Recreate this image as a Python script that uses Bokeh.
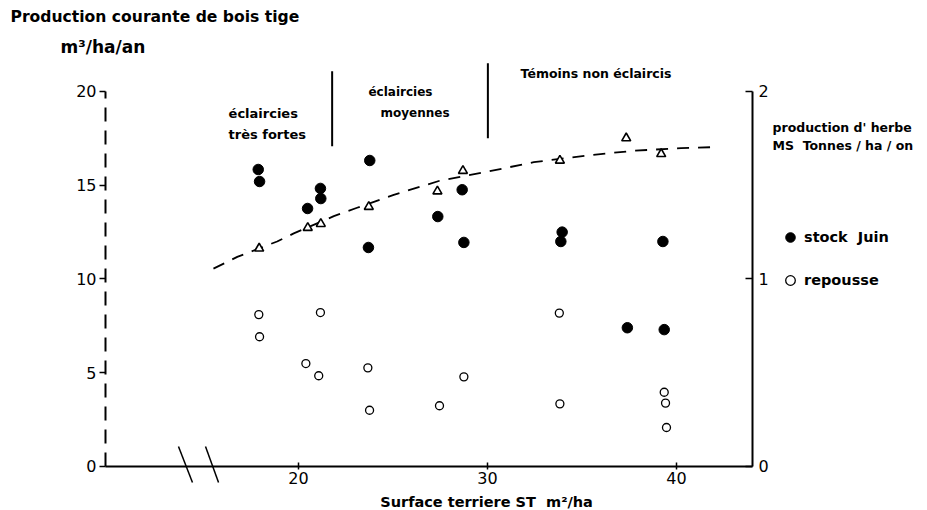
from bokeh.plotting import figure
from bokeh.models import Range1d, LinearAxis, FixedTicker, Label, Legend, LegendItem
from bokeh.embed import file_html
from bokeh.resources import INLINE

# ---- data ----
# Production courante de bois tige (m3/ha/an), triangles
tri_x = [17.92, 20.49, 21.18, 23.72, 27.35, 28.70, 33.83, 37.34, 39.19]
tri_y = [11.63, 12.73, 12.94, 13.85, 14.68, 15.77, 16.32, 17.51, 16.67]

# fitted dashed curve
curve_x = [15.5, 16.76, 18.87, 19.75, 21.87, 23.1, 25.04, 27.5, 29.98, 32.45, 35.27, 37.75, 40.24, 41.94]
curve_y = [10.55, 11.18, 12.0, 12.43, 13.35, 13.8, 14.49, 15.25, 15.72, 16.23, 16.59, 16.84, 16.98, 17.03]

# production d'herbe MS t/ha/an : stock Juin (filled)
stock_x = [17.87, 17.94, 21.16, 21.18, 20.48, 23.77, 23.70, 27.37, 28.66, 28.75, 33.95, 33.88, 39.28, 37.40, 39.35]
stock_y = [1.584, 1.520, 1.483, 1.429, 1.376, 1.632, 1.168, 1.333, 1.476, 1.195, 1.250, 1.200, 1.200, 0.740, 0.730]

# repousse (open)
rep_x = [17.90, 17.94, 21.16, 20.39, 21.07, 23.67, 23.76, 27.46, 28.75, 33.80, 33.83, 39.35, 39.42, 39.47]
rep_y = [0.810, 0.692, 0.821, 0.549, 0.484, 0.526, 0.300, 0.324, 0.478, 0.818, 0.334, 0.396, 0.338, 0.208]

x_ticks = [20, 30, 40]
y_ticks = [0, 5, 10, 15, 20]
y2_ticks = [0, 1, 2]

FONT = "DejaVu Sans"
NB = "\u00a0"
X0, X1 = 4.233, 53.28      # whole canvas width
Y0, Y1 = -2.347, 24.853    # whole canvas height
XL, XR = 9.788, 44.02      # left / right axis positions

p = figure(width=927, height=510, x_range=Range1d(X0, X1), y_range=Range1d(Y0, Y1),
           output_backend="svg", toolbar_location=None, min_border=0,
           x_axis_location=None, y_axis_location=None)
p.extra_y_ranges = {"herbe": Range1d(Y0 / 10, Y1 / 10)}
p.xgrid.visible = False
p.ygrid.visible = False
p.outline_line_color = None
p.background_fill_color = "white"
p.border_fill_color = "white"

def style(ax, tin, tout, standoff):
    ax.axis_line_width = 2
    ax.axis_line_color = "black"
    ax.major_tick_in = tin
    ax.major_tick_out = tout
    ax.major_tick_line_width = 1.5
    ax.major_tick_line_color = "black"
    ax.minor_tick_line_color = None
    ax.major_label_text_font = FONT
    ax.major_label_text_font_size = "16px"
    ax.major_label_text_color = "black"
    ax.major_label_standoff = standoff

xa = LinearAxis(ticker=FixedTicker(ticks=x_ticks), bounds=(XL, XR), fixed_location=0)
style(xa, 4, 3, 3)
p.add_layout(xa, "below")

ya = LinearAxis(ticker=FixedTicker(ticks=y_ticks), bounds=(0, 20), fixed_location=XL)
style(ya, 0, 6, 3)
ya.axis_line_dash = "14 9"
p.add_layout(ya, "left")

ra = LinearAxis(y_range_name="herbe", ticker=FixedTicker(ticks=y2_ticks), bounds=(0, 2),
                fixed_location=XR)
style(ra, 7, 0, 6)
p.add_layout(ra, "right")

# glyphs
p.line(curve_x, curve_y, line_dash="12 9", line_width=1.8, line_color="black")
p.scatter(tri_x, tri_y, marker="triangle", size=9, fill_color="white", line_color="black", line_width=1.6)
r1 = p.scatter(stock_x, stock_y, y_range_name="herbe", marker="circle", size=10.5,
               fill_color="black", line_color="black")
r2 = p.scatter(rep_x, rep_y, y_range_name="herbe", marker="circle", size=8,
               fill_color="white", line_color="black", line_width=1.3)

# separators
p.segment(x0=[21.78, 30.02], y0=[17.08, 17.5], x1=[21.78, 30.02], y1=[21.08, 21.5],
          line_color="black", line_width=2)

# axis break marks
p.segment(x0=[13.65, 15.08], y0=[1.07, 1.07], x1=[14.39, 15.77], y1=[-0.85, -0.85],
          line_color="black", line_width=1.5)

def lab(x, y, t, size, bold=True, align="left"):
    p.add_layout(Label(x=x, y=y, text=t, text_font=FONT, text_font_size=size,
                       text_font_style="bold" if bold else "normal", text_color="black",
                       text_baseline="middle", text_align=align))

lab(4.76, 23.95, "Production courante de bois tige", "15.6px")
lab(7.41, 22.35, "m³/ha/an", "17px")
lab(16.30, 18.83, "éclaircies", "13px")
lab(16.30, 17.71, "très fortes", "13px")
lab(23.70, 19.95, "éclaircies", "12px")
lab(24.34, 18.83, "moyennes", "12px")
lab(31.75, 20.96, "Témoins non éclaircis", "12.5px")
lab(45.08, 18.08, "production d' herbe", "12.5px")
lab(45.08, 17.12, "MS" + NB + NB + "Tonnes / ha / on", "12.5px")
lab(29.95, -1.87, "Surface terriere ST" + NB + NB + "m²/ha", "14.5px", align="center")

legend = Legend(items=[LegendItem(label="stock" + NB + NB + "Juin", renderers=[r1]),
                       LegendItem(label="repousse", renderers=[r2])],
                location=(778, 218), padding=0, margin=0, spacing=19,
                glyph_width=24, glyph_height=24, label_standoff=2,
                border_line_color=None, background_fill_alpha=0,
                label_text_font=FONT, label_text_font_size="14.5px", label_text_font_style="bold",
                label_text_color="black")
p.add_layout(legend)

open("out.html", "w").write(file_html(p, INLINE))
